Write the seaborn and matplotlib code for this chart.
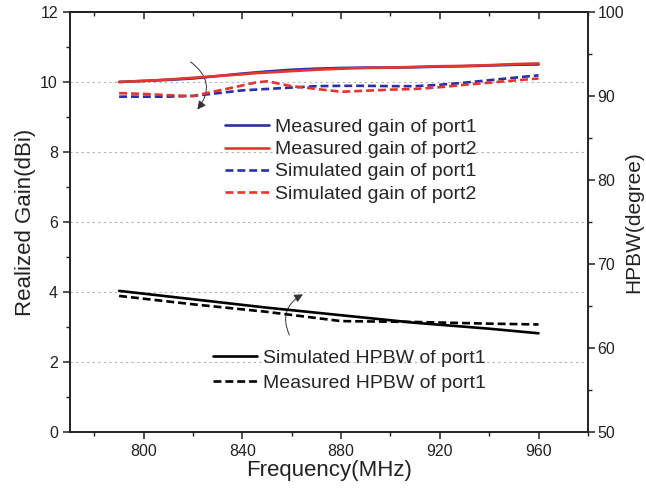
import matplotlib
matplotlib.use("Agg")
import matplotlib.pyplot as plt
import seaborn as sns
import pandas as pd
from matplotlib.patches import FancyArrowPatch
from matplotlib.ticker import MultipleLocator

sns.set_style("ticks")
plt.rcParams['font.family'] = ['Liberation Sans', 'DejaVu Sans']

# Gain data (dBi)
freq_gain = [790, 800, 810, 820, 830, 840, 845, 850, 860, 870, 880, 890, 900, 910, 920, 930, 940, 950, 960]
meas_gain_p1 = [10.0, 10.03, 10.06, 10.1, 10.17, 10.24, 10.27, 10.3, 10.35, 10.38, 10.4, 10.41, 10.41, 10.42, 10.44, 10.45, 10.47, 10.49, 10.5]
meas_gain_p2 = [10.0, 10.03, 10.07, 10.12, 10.17, 10.22, 10.25, 10.27, 10.31, 10.35, 10.38, 10.4, 10.41, 10.43, 10.45, 10.46, 10.48, 10.51, 10.53]
sim_gain_p1 = [9.58, 9.58, 9.58, 9.6, 9.68, 9.76, 9.78, 9.8, 9.84, 9.88, 9.89, 9.89, 9.88, 9.88, 9.92, 9.98, 10.05, 10.12, 10.19]
sim_gain_p2 = [9.68, 9.66, 9.62, 9.6, 9.75, 9.9, 9.98, 10.02, 9.88, 9.8, 9.72, 9.75, 9.78, 9.8, 9.85, 9.92, 9.98, 10.04, 10.1]

# HPBW data (degree)
freq_hpbw = [790, 820, 850, 880, 910, 940, 960]
sim_hpbw_p1 = [66.8, 65.8, 64.8, 63.9, 63.0, 62.3, 61.75]
meas_hpbw_p1 = [66.2, 65.2, 64.3, 63.2, 63.1, 62.9, 62.8]

BLUE = "#2b2fa8"
RED = "#e8342c"
INK = "#222222"

fig = plt.figure(figsize=(6.46, 4.98), dpi=100)
ax = fig.add_axes([0.108, 0.1325, 0.802, 0.8435])
ax2 = ax.twinx()

lw = 1.9
dash = (0, (3, 1.5))
sns.lineplot(x=freq_gain, y=meas_gain_p1, ax=ax, color=BLUE, lw=lw, label="Measured gain of port1")
sns.lineplot(x=freq_gain, y=meas_gain_p2, ax=ax, color=RED, lw=lw, label="Measured gain of port2")
sns.lineplot(x=freq_gain, y=sim_gain_p1, ax=ax, color=BLUE, lw=lw, ls=dash, label="Simulated gain of port1")
sns.lineplot(x=freq_gain, y=sim_gain_p2, ax=ax, color=RED, lw=lw, ls=dash, label="Simulated gain of port2")

sns.lineplot(x=freq_hpbw, y=sim_hpbw_p1, ax=ax2, color="black", lw=lw, label="Simulated HPBW of port1")
sns.lineplot(x=freq_hpbw, y=meas_hpbw_p1, ax=ax2, color="black", lw=lw, ls=dash, label="Measured HPBW of port1")

ax.set_xlim(770, 980)
ax.set_ylim(0, 12)
ax2.set_ylim(50, 100)

ax.xaxis.set_major_locator(MultipleLocator(40))
ax.xaxis.set_minor_locator(MultipleLocator(20))
ax.yaxis.set_major_locator(MultipleLocator(2))
ax.yaxis.set_minor_locator(MultipleLocator(1))
ax2.yaxis.set_major_locator(MultipleLocator(10))
ax2.yaxis.set_minor_locator(MultipleLocator(5))

for a in (ax, ax2):
    for s in a.spines.values():
        s.set_visible(True)
        s.set_linewidth(1.2)
        s.set_color(INK)

ax.tick_params(axis='both', which='major', direction='out', length=5, width=1.1, labelsize=11.5, colors=INK)
ax.tick_params(axis='both', which='minor', direction='out', length=3, width=1.0, colors=INK)
ax2.tick_params(axis='y', which='major', direction='out', length=5, width=1.1, labelsize=11.5, colors=INK, pad=2)
ax2.tick_params(axis='y', which='minor', direction='out', length=3, width=1.0, colors=INK)

top = ax.secondary_xaxis('top')
top.xaxis.set_major_locator(MultipleLocator(40))
top.xaxis.set_minor_locator(MultipleLocator(20))
top.tick_params(which='major', direction='in', length=5, width=1.1, labeltop=False, colors=INK)
top.tick_params(which='minor', direction='in', length=3, width=1.0, colors=INK)
top.spines['top'].set_linewidth(1.2)

ax.yaxis.grid(True, which='major', linestyle=(0, (2, 3)), color="#b0b0b0", lw=0.8)
ax.set_axisbelow(True)

ax.set_xlabel("Frequency(MHz)", fontsize=16, color=INK, labelpad=1)
ax.set_ylabel("Realized Gain(dBi)", fontsize=16, color=INK, labelpad=3)
ax2.set_ylabel("HPBW(degree)", fontsize=15, color=INK, labelpad=0)

leg1 = ax.legend(loc='upper left', bbox_to_anchor=(0.299, 0.746), frameon=False, fontsize=14,
                 handlelength=2.3, handletextpad=0.3, labelspacing=0.23, borderaxespad=0, borderpad=0)
leg2 = ax2.legend(loc='upper left', bbox_to_anchor=(0.276, 0.197), frameon=False, fontsize=14,
                  handlelength=2.3, handletextpad=0.3, labelspacing=0.4, borderaxespad=0, borderpad=0)

arr1 = FancyArrowPatch((818, 10.62), (821, 9.15), connectionstyle="arc3,rad=-0.55",
                       arrowstyle="-|>,head_length=5,head_width=2.5", color="#333333", lw=0.7)
ax.add_patch(arr1)
arr2 = FancyArrowPatch((859.5, 2.7), (865.5, 3.97), connectionstyle="arc3,rad=-0.5",
                       arrowstyle="-|>,head_length=5,head_width=2.5", color="#333333", lw=0.7)
ax.add_patch(arr2)

fig.savefig("out.png", dpi=100)
